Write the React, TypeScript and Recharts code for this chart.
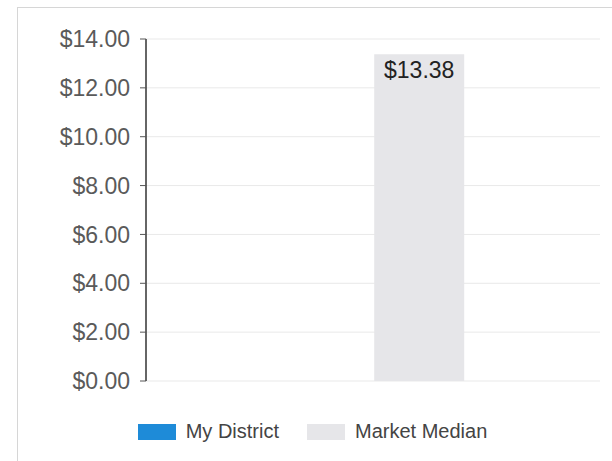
import { BarChart, Bar, XAxis, YAxis, CartesianGrid, Legend, LabelList } from 'recharts'

const categories = ['Hourly Rate']
const myDistrict = [0]
const marketMedian = [13.38]
const yTicks = [0, 2, 4, 6, 8, 10, 12, 14]
const legendOrder = ['My District', 'Market Median']

const data = categories.map((name, i) => ({
  name,
  myDistrict: myDistrict[i],
  marketMedian: marketMedian[i],
}))

const money = (v: number) => `$${v.toFixed(2)}`

function SwatchLegend({ payload }: any) {
  const items = [...(payload || [])].sort(
    (a: any, b: any) => legendOrder.indexOf(a.value) - legendOrder.indexOf(b.value)
  )
  return (
    <div style={{ display: 'flex', justifyContent: 'center', paddingLeft: 41, fontFamily: '"Liberation Sans", Arial, sans-serif' }}>
      {items.map((p: any) => (
        <div key={p.value} style={{ display: 'flex', alignItems: 'center', marginRight: 28 }}>
          <span style={{ display: 'inline-block', width: 38, height: 16, background: p.color, marginRight: 10 }} />
          <span style={{ fontSize: 20, color: '#444' }}>{p.value}</span>
        </div>
      ))}
    </div>
  )
}

export default function App() {
  return (
    <div style={{ position: 'absolute', left: 0, top: 0, width: 612, height: 461, background: '#fff', overflow: 'hidden' }}>
      <div style={{ position: 'absolute', left: 17, top: 7, width: 700, height: 600, border: '1px solid #d6d6d6' }} />
      <BarChart
        width={612}
        height={461}
        data={data}
        margin={{ top: 39, right: 12, left: 0, bottom: 80 }}
        barCategoryGap="30%"
        barGap={2}
        style={{ fontFamily: '"Liberation Sans", Arial, sans-serif' }}
      >
        <CartesianGrid stroke="#e9e9e9" vertical={false} />
        <XAxis dataKey="name" hide />
        <YAxis
          width={146}
          domain={[0, 14]}
          ticks={yTicks}
          tickFormatter={money}
          tick={{ fontSize: 23, fill: '#5a5a5a' }}
          tickLine={{ stroke: '#555' }}
          tickSize={6}
          tickMargin={10}
          axisLine={{ stroke: '#333', strokeWidth: 1.5 }}
        />
        <Legend
          layout="horizontal"
          verticalAlign="middle"
          align="center"
          wrapperStyle={{ top: 420, left: 0, width: 612 }}
          content={<SwatchLegend />}
        />
        <Bar dataKey="myDistrict" name="My District" fill="#1e8bd8" isAnimationActive={false} />
        <Bar dataKey="marketMedian" name="Market Median" fill="#e6e6e9" isAnimationActive={false}>
          <LabelList dataKey="marketMedian" position="insideTop" offset={8} formatter={(v: any) => money(Number(v))} style={{ fontSize: 23, fill: '#222' }} />
        </Bar>
      </BarChart>
    </div>
  )
}
